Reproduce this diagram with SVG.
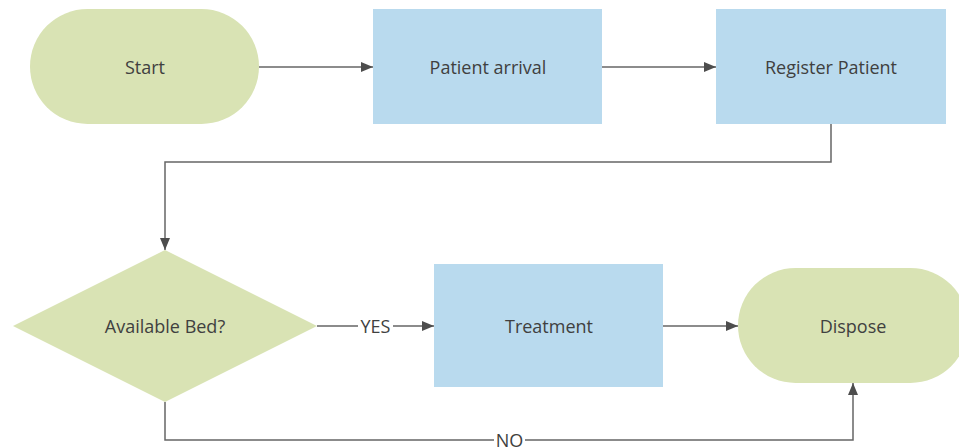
<svg xmlns="http://www.w3.org/2000/svg" width="959" height="448" viewBox="0 0 959 448">
<defs>
<marker id="arr" markerWidth="12" markerHeight="10" refX="12" refY="5" orient="auto" markerUnits="userSpaceOnUse">
<path d="M0,0 L12,5 L0,10 Z" fill="#4d4d4d"/>
</marker>
<style>
.t{fill:#d9e3b4}
.p{fill:#b9daee}
.lbl{font-family:"Open Sans","Noto Sans",sans-serif;font-size:18px;fill:#404040;text-anchor:middle;dominant-baseline:central}
.c{fill:none;stroke:#666;stroke-width:1.5}
</style>
</defs>
<rect width="959" height="448" fill="#fff"/>
<g id="start"><rect class="t" x="30" y="9" width="229" height="115" rx="57.5"/><text class="lbl" x="145" y="67">Start</text></g>
<g id="arrival"><rect class="p" x="373" y="9" width="229" height="115"/><text class="lbl" x="488" y="67">Patient arrival</text></g>
<g id="register"><rect class="p" x="716" y="9" width="230" height="115"/><text class="lbl" x="831" y="67">Register Patient</text></g>
<g id="bed"><polygon class="t" points="165,250 317,326 165,402 13,326"/><text class="lbl" x="165" y="326">Available Bed?</text></g>
<g id="treatment"><rect class="p" x="434" y="264" width="229" height="123"/><text class="lbl" x="549" y="326">Treatment</text></g>
<g id="dispose"><rect class="t" x="738" y="268" width="230" height="115" rx="57.5"/><text class="lbl" x="853" y="326">Dispose</text></g>
<g id="connectors">
<path class="c" d="M259,67 H373" marker-end="url(#arr)"/>
<path class="c" d="M602,67 H716" marker-end="url(#arr)"/>
<path class="c" d="M831,124 V162 H165 V250" marker-end="url(#arr)"/>
<path class="c" d="M317,326 H358 M393,326 H434" marker-end="url(#arr)"/>
<text class="lbl" x="375.5" y="326">YES</text>
<path class="c" d="M663,326 H738" marker-end="url(#arr)"/>
<path class="c" d="M165,402 V440 H494 M525,440 H853 V383" marker-end="url(#arr)"/>
<text class="lbl" x="509.5" y="440">NO</text>
</g>
</svg>
